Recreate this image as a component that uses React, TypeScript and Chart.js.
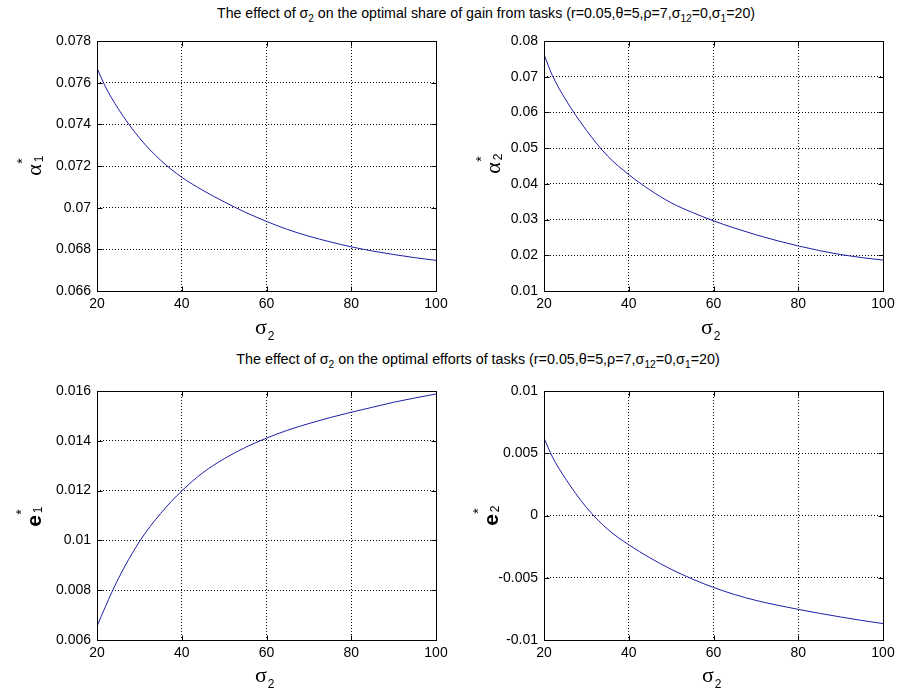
import React, { useEffect, useLayoutEffect, useRef } from "react";
import { Chart, registerables } from "chart.js";

Chart.register(...registerables);

// ---------- data ----------
const sigma2 = [20, 22, 25, 30, 35, 40, 45, 50, 55, 60, 65, 70, 75, 80, 85, 90, 95, 100];

const alpha1 = [0.0767, 0.0758, 0.07475, 0.07335, 0.07228, 0.07146, 0.07083, 0.07028, 0.06978, 0.06934, 0.06895, 0.06863, 0.06836, 0.06812, 0.06792, 0.06775, 0.0676, 0.06747];
const alpha2 = [0.0762, 0.0703, 0.0638, 0.055, 0.0478, 0.0426, 0.0383, 0.0347, 0.032, 0.02965, 0.0276, 0.02575, 0.0241, 0.02262, 0.02132, 0.02022, 0.01935, 0.01865];
const effort1 = [0.006547, 0.007347, 0.008453, 0.009947, 0.01108, 0.011987, 0.01272, 0.01328, 0.013733, 0.014107, 0.014427, 0.014693, 0.014933, 0.015147, 0.015347, 0.015547, 0.01572, 0.01588];
const effort2 = [0.006227, 0.0047, 0.003, 0.00065, -0.0011, -0.00235, -0.0034, -0.00432, -0.0051, -0.00578, -0.00635, -0.00682, -0.0072, -0.00754, -0.00786, -0.00815, -0.00843, -0.00868];

const xTicks = [20, 40, 60, 80, 100];
const alpha1Ticks = [0.066, 0.068, 0.07, 0.072, 0.074, 0.076, 0.078];
const alpha2Ticks = [0.01, 0.02, 0.03, 0.04, 0.05, 0.06, 0.07, 0.08];
const effort1Ticks = [0.006, 0.008, 0.01, 0.012, 0.014, 0.016];
const effort2Ticks = [-0.01, -0.005, 0, 0.005, 0.01];

// ---------- styling ----------
const SANS = "'Liberation Sans', Arial, sans-serif";
const SERIF = "'Liberation Serif', 'DejaVu Serif', serif";
const LINE_COLOR = "rgb(30,30,165)";

const Y_W = 70;
const PAD_T = 12;
const PAD_R = 22;
const X_H = 24;

const boxPlugin = {
  id: "matlabBox",
  afterDraw(chart: any) {
    const { ctx, chartArea } = chart;
    const l = Math.round(chartArea.left) + 0.5;
    const r = Math.round(chartArea.right) + 0.5;
    const t = Math.round(chartArea.top) + 0.5;
    const b = Math.round(chartArea.bottom) + 0.5;
    ctx.save();
    ctx.strokeStyle = "#000";
    ctx.lineWidth = 1;
    ctx.setLineDash([]);
    ctx.strokeRect(l, t, r - l, b - t);
    const tl = 5;
    ctx.beginPath();
    chart.scales.x.ticks.forEach((tk: any) => {
      const px = Math.round(chart.scales.x.getPixelForValue(tk.value)) + 0.5;
      ctx.moveTo(px, b);
      ctx.lineTo(px, b - tl);
      ctx.moveTo(px, t);
      ctx.lineTo(px, t + tl);
    });
    chart.scales.y.ticks.forEach((tk: any) => {
      const py = Math.round(chart.scales.y.getPixelForValue(tk.value)) + 0.5;
      ctx.moveTo(l, py);
      ctx.lineTo(l + tl, py);
      ctx.moveTo(r, py);
      ctx.lineTo(r - tl, py);
    });
    ctx.stroke();
    ctx.restore();
  },
};

function makeConfig(ys: number[], yTicks: number[]) {
  const tickFont = { family: SANS, size: 14, lineHeight: 1 };
  return {
    type: "line" as const,
    data: {
      datasets: [
        {
          data: sigma2.map((x, i) => ({ x, y: ys[i] })),
          borderColor: LINE_COLOR,
          borderWidth: 1,
          pointRadius: 0,
          fill: false,
          cubicInterpolationMode: "monotone" as const,
        },
      ],
    },
    options: {
      animation: false as const,
      responsive: false,
      maintainAspectRatio: false,
      events: [],
      layout: { padding: { left: 0, top: PAD_T, right: PAD_R, bottom: 0 } },
      plugins: { legend: { display: false }, tooltip: { enabled: false }, title: { display: false } },
      scales: {
        x: {
          type: "linear" as const,
          min: xTicks[0],
          max: xTicks[xTicks.length - 1],
          afterBuildTicks: (s: any) => {
            s.ticks = xTicks.map((v) => ({ value: v }));
          },
          afterFit: (s: any) => {
            s.height = X_H;
          },
          ticks: {
            color: "#000",
            font: tickFont,
            padding: 6,
            maxRotation: 0,
            autoSkip: false,
            callback: (v: any) => String(v),
          },
          grid: { color: "#000", lineWidth: 1, drawTicks: false, borderDash: [1, 2] },
          border: { display: false, dash: [1, 2] },
        },
        y: {
          type: "linear" as const,
          min: yTicks[0],
          max: yTicks[yTicks.length - 1],
          afterBuildTicks: (s: any) => {
            s.ticks = yTicks.map((v) => ({ value: v }));
          },
          afterFit: (s: any) => {
            s.width = Y_W;
          },
          ticks: {
            color: "#000",
            font: tickFont,
            padding: 6,
            autoSkip: false,
            callback: (v: any) => String(Number(Number(v).toPrecision(6))),
          },
          grid: { color: "#000", lineWidth: 1, drawTicks: false, borderDash: [1, 2] },
          border: { display: false, dash: [1, 2] },
        },
      },
    },
    plugins: [boxPlugin],
  };
}

function SubPlot(props: { left: number; top: number; w: number; h: number; ys: number[]; yTicks: number[] }) {
  const ref = useRef<HTMLCanvasElement | null>(null);
  const cw = props.w + Y_W + PAD_R;
  const ch = props.h + PAD_T + X_H;
  useEffect(() => {
    if (!ref.current) return;
    const chart = new Chart(ref.current, makeConfig(props.ys, props.yTicks) as any);
    return () => chart.destroy();
  }, []);
  return (
    <canvas
      ref={ref}
      width={cw}
      height={ch}
      style={{ position: "absolute", left: props.left - Y_W, top: props.top - PAD_T, width: cw, height: ch }}
    />
  );
}

function Glyph(props: { x: number; y: number; rot?: boolean; style: React.CSSProperties; children: React.ReactNode }) {
  return (
    <div
      style={{
        position: "absolute",
        left: props.x,
        top: props.y,
        transform: `translate(-50%, -50%)${props.rot ? " rotate(-90deg)" : ""}`,
        lineHeight: 1,
        whiteSpace: "nowrap",
        color: "#000",
        ...props.style,
      }}
    >
      {props.children}
    </div>
  );
}

const greekStyle: React.CSSProperties = { fontFamily: SERIF, fontSize: 22 };
const subStyle: React.CSSProperties = { fontFamily: SANS, fontSize: 12 };
const starStyle: React.CSSProperties = { fontFamily: SANS, fontSize: 14 };
const eStyle: React.CSSProperties = { fontFamily: SANS, fontSize: 21, fontWeight: "bold" };

function XLabel(props: { x: number; y: number }) {
  return (
    <>
      <Glyph x={props.x} y={props.y} style={greekStyle}>σ</Glyph>
      <Glyph x={props.x + 10} y={props.y + 9} style={subStyle}>2</Glyph>
    </>
  );
}

function YLabel(props: { x: number; y: number; main: string; sub: string; bold?: boolean }) {
  return (
    <>
      <Glyph x={props.x} y={props.y} rot style={props.bold ? eStyle : greekStyle}>{props.main}</Glyph>
      <Glyph x={props.x + 5} y={props.y - 11} rot style={subStyle}>{props.sub}</Glyph>
      <Glyph x={props.x - 12} y={props.y - 9} rot style={starStyle}>*</Glyph>
    </>
  );
}

const subT: React.CSSProperties = { fontSize: 10, verticalAlign: "-4px", lineHeight: 0 };

function Title(props: { cx: number; top: number; width: number; middle: string }) {
  const ref = useRef<HTMLDivElement | null>(null);
  useLayoutEffect(() => {
    const el = ref.current;
    if (!el) return;
    const w = el.scrollWidth;
    if (w > 0) el.style.transform = `translateX(-50%) scaleX(${props.width / w})`;
  }, []);
  return (
    <div
      ref={ref}
      style={{
        position: "absolute",
        left: props.cx,
        top: props.top,
        transform: "translateX(-50%)",
        transformOrigin: "50% 50%",
        fontFamily: SANS,
        fontSize: 14,
        lineHeight: "15px",
        whiteSpace: "nowrap",
        color: "#000",
      }}
    >
      The effect of σ<sub style={subT}>2</sub> on the optimal {props.middle} (r=0.05,θ=5,ρ=7,σ<sub style={subT}>12</sub>=0,σ
      <sub style={subT}>1</sub>=20)
    </div>
  );
}

export default function App() {
  return (
    <div style={{ position: "absolute", left: 0, top: 0, width: 903, height: 692, background: "#fff", overflow: "hidden" }}>
      <Title cx={486} top={6} width={538} middle="share of gain from tasks" />
      <Title cx={478} top={352} width={483} middle="efforts of tasks" />

      <SubPlot left={97} top={40} w={339} h={251} ys={alpha1} yTicks={alpha1Ticks} />
      <SubPlot left={544} top={40} w={339} h={251} ys={alpha2} yTicks={alpha2Ticks} />
      <SubPlot left={97} top={390} w={339} h={250} ys={effort1} yTicks={effort1Ticks} />
      <SubPlot left={544} top={390} w={339} h={250} ys={effort2} yTicks={effort2Ticks} />

      <XLabel x={261} y={327} />
      <XLabel x={707} y={327} />
      <XLabel x={261} y={675} />
      <XLabel x={708} y={675} />

      <YLabel x={34} y={170} main="α" sub="1" />
      <YLabel x={493} y={168} main="α" sub="2" />
      <YLabel x={33} y={521} main="e" sub="1" bold />
      <YLabel x={490} y={520} main="e" sub="2" bold />
    </div>
  );
}
